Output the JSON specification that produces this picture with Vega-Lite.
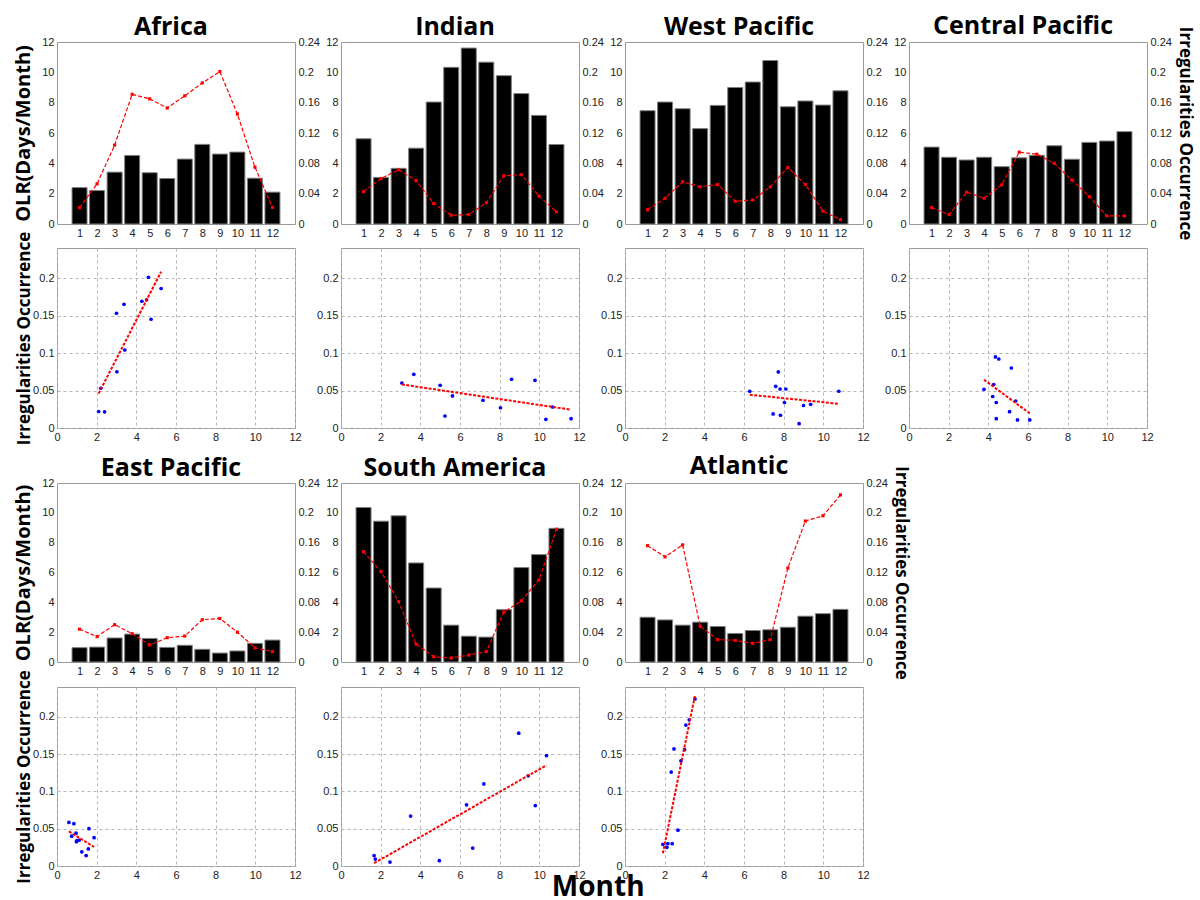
{
  "$schema": "https://vega.github.io/schema/vega-lite/v6.json",
  "padding": {"left": 12, "top": 13, "right": 0, "bottom": 0},
  "autosize": {"type": "pad"},
  "data": {"values": [
    {"region": "Africa", "month": 1, "olr": 2.40, "occ": 0.0216},
    {"region": "Africa", "month": 2, "olr": 2.21, "occ": 0.053},
    {"region": "Africa", "month": 3, "olr": 3.42, "occ": 0.104},
    {"region": "Africa", "month": 4, "olr": 4.52, "occ": 0.171},
    {"region": "Africa", "month": 5, "olr": 3.38, "occ": 0.165},
    {"region": "Africa", "month": 6, "olr": 3.00, "occ": 0.153},
    {"region": "Africa", "month": 7, "olr": 4.28, "occ": 0.169},
    {"region": "Africa", "month": 8, "olr": 5.25, "occ": 0.186},
    {"region": "Africa", "month": 9, "olr": 4.61, "occ": 0.201},
    {"region": "Africa", "month": 10, "olr": 4.74, "occ": 0.145},
    {"region": "Africa", "month": 11, "olr": 3.02, "occ": 0.075},
    {"region": "Africa", "month": 12, "olr": 2.10, "occ": 0.022},
    {"region": "Indian", "month": 1, "olr": 5.62, "occ": 0.0427},
    {"region": "Indian", "month": 2, "olr": 3.07, "occ": 0.060},
    {"region": "Indian", "month": 3, "olr": 3.67, "occ": 0.0716},
    {"region": "Indian", "month": 4, "olr": 5.00, "occ": 0.057},
    {"region": "Indian", "month": 5, "olr": 8.04, "occ": 0.027},
    {"region": "Indian", "month": 6, "olr": 10.33, "occ": 0.0116},
    {"region": "Indian", "month": 7, "olr": 11.60, "occ": 0.0124},
    {"region": "Indian", "month": 8, "olr": 10.67, "occ": 0.028},
    {"region": "Indian", "month": 9, "olr": 9.78, "occ": 0.0636},
    {"region": "Indian", "month": 10, "olr": 8.60, "occ": 0.065},
    {"region": "Indian", "month": 11, "olr": 7.16, "occ": 0.037},
    {"region": "Indian", "month": 12, "olr": 5.24, "occ": 0.016},
    {"region": "West Pacific", "month": 1, "olr": 7.47, "occ": 0.0187},
    {"region": "West Pacific", "month": 2, "olr": 8.04, "occ": 0.034},
    {"region": "West Pacific", "month": 3, "olr": 7.60, "occ": 0.0556},
    {"region": "West Pacific", "month": 4, "olr": 6.29, "occ": 0.049},
    {"region": "West Pacific", "month": 5, "olr": 7.82, "occ": 0.052},
    {"region": "West Pacific", "month": 6, "olr": 9.00, "occ": 0.030},
    {"region": "West Pacific", "month": 7, "olr": 9.36, "occ": 0.0316},
    {"region": "West Pacific", "month": 8, "olr": 10.78, "occ": 0.049},
    {"region": "West Pacific", "month": 9, "olr": 7.73, "occ": 0.0747},
    {"region": "West Pacific", "month": 10, "olr": 8.11, "occ": 0.052},
    {"region": "West Pacific", "month": 11, "olr": 7.84, "occ": 0.017},
    {"region": "West Pacific", "month": 12, "olr": 8.78, "occ": 0.0058},
    {"region": "Central Pacific", "month": 1, "olr": 5.07, "occ": 0.0218},
    {"region": "Central Pacific", "month": 2, "olr": 4.40, "occ": 0.0124},
    {"region": "Central Pacific", "month": 3, "olr": 4.22, "occ": 0.042},
    {"region": "Central Pacific", "month": 4, "olr": 4.40, "occ": 0.034},
    {"region": "Central Pacific", "month": 5, "olr": 3.78, "occ": 0.0516},
    {"region": "Central Pacific", "month": 6, "olr": 4.36, "occ": 0.0947},
    {"region": "Central Pacific", "month": 7, "olr": 4.53, "occ": 0.092},
    {"region": "Central Pacific", "month": 8, "olr": 5.16, "occ": 0.080},
    {"region": "Central Pacific", "month": 9, "olr": 4.27, "occ": 0.058},
    {"region": "Central Pacific", "month": 10, "olr": 5.38, "occ": 0.036},
    {"region": "Central Pacific", "month": 11, "olr": 5.47, "occ": 0.0107},
    {"region": "Central Pacific", "month": 12, "olr": 6.09, "occ": 0.0107},
    {"region": "East Pacific", "month": 1, "olr": 0.96, "occ": 0.044},
    {"region": "East Pacific", "month": 2, "olr": 1.00, "occ": 0.034},
    {"region": "East Pacific", "month": 3, "olr": 1.61, "occ": 0.050},
    {"region": "East Pacific", "month": 4, "olr": 1.87, "occ": 0.038},
    {"region": "East Pacific", "month": 5, "olr": 1.58, "occ": 0.0228},
    {"region": "East Pacific", "month": 6, "olr": 0.98, "occ": 0.0326},
    {"region": "East Pacific", "month": 7, "olr": 1.12, "occ": 0.0348},
    {"region": "East Pacific", "month": 8, "olr": 0.85, "occ": 0.0567},
    {"region": "East Pacific", "month": 9, "olr": 0.60, "occ": 0.0584},
    {"region": "East Pacific", "month": 10, "olr": 0.74, "occ": 0.040},
    {"region": "East Pacific", "month": 11, "olr": 1.25, "occ": 0.019},
    {"region": "East Pacific", "month": 12, "olr": 1.47, "occ": 0.014},
    {"region": "South America", "month": 1, "olr": 10.36, "occ": 0.148},
    {"region": "South America", "month": 2, "olr": 9.44, "occ": 0.121},
    {"region": "South America", "month": 3, "olr": 9.80, "occ": 0.081},
    {"region": "South America", "month": 4, "olr": 6.64, "occ": 0.024},
    {"region": "South America", "month": 5, "olr": 4.96, "occ": 0.0071},
    {"region": "South America", "month": 6, "olr": 2.47, "occ": 0.0053},
    {"region": "South America", "month": 7, "olr": 1.73, "occ": 0.0093},
    {"region": "South America", "month": 8, "olr": 1.67, "occ": 0.014},
    {"region": "South America", "month": 9, "olr": 3.51, "occ": 0.067},
    {"region": "South America", "month": 10, "olr": 6.33, "occ": 0.082},
    {"region": "South America", "month": 11, "olr": 7.20, "occ": 0.110},
    {"region": "South America", "month": 12, "olr": 8.96, "occ": 0.178},
    {"region": "Atlantic", "month": 1, "olr": 3.00, "occ": 0.156},
    {"region": "Atlantic", "month": 2, "olr": 2.82, "occ": 0.141},
    {"region": "Atlantic", "month": 3, "olr": 2.47, "occ": 0.157},
    {"region": "Atlantic", "month": 4, "olr": 2.67, "occ": 0.048},
    {"region": "Atlantic", "month": 5, "olr": 2.38, "occ": 0.030},
    {"region": "Atlantic", "month": 6, "olr": 1.91, "occ": 0.029},
    {"region": "Atlantic", "month": 7, "olr": 2.11, "occ": 0.025},
    {"region": "Atlantic", "month": 8, "olr": 2.16, "occ": 0.030},
    {"region": "Atlantic", "month": 9, "olr": 2.33, "occ": 0.126},
    {"region": "Atlantic", "month": 10, "olr": 3.07, "occ": 0.189},
    {"region": "Atlantic", "month": 11, "olr": 3.24, "occ": 0.196},
    {"region": "Atlantic", "month": 12, "olr": 3.53, "occ": 0.224}
  ]},
  "title": {"text": "Month", "orient": "bottom", "anchor": "middle", "fontSize": 28, "frame": "bounds", "offset": -10},
  "spacing": 7,
  "vconcat": [
    {
      "columns": 4,
      "bounds": "flush",
      "spacing": {"row": 24, "column": 46},
      "concat": [
        {"width": 238, "height": 182, "title": {"text": "Africa"},
         "transform": [{"filter": "datum.region === 'Africa'"}],
         "layer": [
           {"mark": {"type": "bar", "width": 15, "color": "#000", "stroke": "#7f7f7f", "strokeWidth": 1},
            "encoding": {
              "x": {"field": "month", "type": "quantitative", "scale": {"domain": [0, 13], "nice": false, "zero": false}, "axis": {"values": [1,2,3,4,5,6,7,8,9,10,11,12], "tickCount": 13, "title": null}},
              "y": {"field": "olr", "type": "quantitative", "scale": {"domain": [0, 12], "nice": false}, "axis": {"values": [0,2,4,6,8,10,12], "tickCount": 13, "title": "OLR(Days/Month)", "titleFontSize": 20, "minExtent": 20, "maxExtent": 20, "titlePadding": 4}}}},
           {"mark": {"type": "line", "color": "#f00", "strokeWidth": 1.2, "strokeDash": [4, 2], "point": {"shape": "square", "size": 10, "color": "#f00", "filled": true}},
            "encoding": {
              "x": {"field": "month", "type": "quantitative"},
              "y": {"field": "occ", "type": "quantitative", "scale": {"domain": [0, 0.24], "nice": false}, "axis": {"orient": "right", "values": [0,0.04,0.08,0.12,0.16,0.2,0.24], "tickCount": 13, "format": "~g", "title": null}}}}
         ],
         "resolve": {"scale": {"y": "independent"}}},
        {"width": 238, "height": 182, "title": {"text": "Indian"},
         "transform": [{"filter": "datum.region === 'Indian'"}],
         "layer": [
           {"mark": {"type": "bar", "width": 15, "color": "#000", "stroke": "#7f7f7f", "strokeWidth": 1},
            "encoding": {
              "x": {"field": "month", "type": "quantitative", "scale": {"domain": [0, 13], "nice": false, "zero": false}, "axis": {"values": [1,2,3,4,5,6,7,8,9,10,11,12], "tickCount": 13, "title": null}},
              "y": {"field": "olr", "type": "quantitative", "scale": {"domain": [0, 12], "nice": false}, "axis": {"values": [0,2,4,6,8,10,12], "tickCount": 13, "title": null}}}},
           {"mark": {"type": "line", "color": "#f00", "strokeWidth": 1.2, "strokeDash": [4, 2], "point": {"shape": "square", "size": 10, "color": "#f00", "filled": true}},
            "encoding": {
              "x": {"field": "month", "type": "quantitative"},
              "y": {"field": "occ", "type": "quantitative", "scale": {"domain": [0, 0.24], "nice": false}, "axis": {"orient": "right", "values": [0,0.04,0.08,0.12,0.16,0.2,0.24], "tickCount": 13, "format": "~g", "title": null}}}}
         ],
         "resolve": {"scale": {"y": "independent"}}},
        {"width": 238, "height": 182, "title": {"text": "West Pacific"},
         "transform": [{"filter": "datum.region === 'West Pacific'"}],
         "layer": [
           {"mark": {"type": "bar", "width": 15, "color": "#000", "stroke": "#7f7f7f", "strokeWidth": 1},
            "encoding": {
              "x": {"field": "month", "type": "quantitative", "scale": {"domain": [0, 13], "nice": false, "zero": false}, "axis": {"values": [1,2,3,4,5,6,7,8,9,10,11,12], "tickCount": 13, "title": null}},
              "y": {"field": "olr", "type": "quantitative", "scale": {"domain": [0, 12], "nice": false}, "axis": {"values": [0,2,4,6,8,10,12], "tickCount": 13, "title": null}}}},
           {"mark": {"type": "line", "color": "#f00", "strokeWidth": 1.2, "strokeDash": [4, 2], "point": {"shape": "square", "size": 10, "color": "#f00", "filled": true}},
            "encoding": {
              "x": {"field": "month", "type": "quantitative"},
              "y": {"field": "occ", "type": "quantitative", "scale": {"domain": [0, 0.24], "nice": false}, "axis": {"orient": "right", "values": [0,0.04,0.08,0.12,0.16,0.2,0.24], "tickCount": 13, "format": "~g", "title": null}}}}
         ],
         "resolve": {"scale": {"y": "independent"}}},
        {"width": 238, "height": 182, "title": {"text": "Central Pacific", "dy": 9},
         "transform": [{"filter": "datum.region === 'Central Pacific'"}],
         "layer": [
           {"mark": {"type": "bar", "width": 15, "color": "#000", "stroke": "#7f7f7f", "strokeWidth": 1},
            "encoding": {
              "x": {"field": "month", "type": "quantitative", "scale": {"domain": [0, 13], "nice": false, "zero": false}, "axis": {"values": [1,2,3,4,5,6,7,8,9,10,11,12], "tickCount": 13, "title": null}},
              "y": {"field": "olr", "type": "quantitative", "scale": {"domain": [0, 12], "nice": false}, "axis": {"values": [0,2,4,6,8,10,12], "tickCount": 13, "title": null}}}},
           {"mark": {"type": "line", "color": "#f00", "strokeWidth": 1.2, "strokeDash": [4, 2], "point": {"shape": "square", "size": 10, "color": "#f00", "filled": true}},
            "encoding": {
              "x": {"field": "month", "type": "quantitative"},
              "y": {"field": "occ", "type": "quantitative", "scale": {"domain": [0, 0.24], "nice": false}, "axis": {"orient": "right", "values": [0,0.04,0.08,0.12,0.16,0.2,0.24], "tickCount": 13, "format": "~g", "title": "Irregularities Occurrence", "titleFontSize": 17, "titlePadding": 4}}}}
         ],
         "resolve": {"scale": {"y": "independent"}}},
        {"width": 238, "height": 180,
         "transform": [{"filter": "datum.region === 'Africa'"}],
         "layer": [
           {"mark": {"type": "point", "filled": true, "color": "#0000ff", "size": 14, "opacity": 1},
            "encoding": {
              "x": {"field": "olr", "type": "quantitative", "scale": {"domain": [0, 12], "nice": false}, "axis": {"values": [0,2,4,6,8,10,12], "tickCount": 13, "title": null, "grid": true}},
              "y": {"field": "occ", "type": "quantitative", "scale": {"domain": [0, 0.24], "nice": false}, "axis": {"values": [0,0.05,0.1,0.15,0.2], "tickCount": 13, "format": "~g", "grid": true, "title": "Irregularities Occurrence", "titleFontSize": 17, "minExtent": 20, "maxExtent": 20, "titlePadding": 4}}}},
           {"transform": [{"regression": "occ", "on": "olr"}],
            "mark": {"type": "line", "color": "#f00", "strokeWidth": 2, "strokeDash": [3, 1.5]},
            "encoding": {"x": {"field": "olr", "type": "quantitative"}, "y": {"field": "occ", "type": "quantitative"}}}
         ]},
        {"width": 238, "height": 180,
         "transform": [{"filter": "datum.region === 'Indian'"}],
         "layer": [
           {"mark": {"type": "point", "filled": true, "color": "#0000ff", "size": 14, "opacity": 1},
            "encoding": {
              "x": {"field": "olr", "type": "quantitative", "scale": {"domain": [0, 12], "nice": false}, "axis": {"values": [0,2,4,6,8,10,12], "tickCount": 13, "title": null, "grid": true}},
              "y": {"field": "occ", "type": "quantitative", "scale": {"domain": [0, 0.24], "nice": false}, "axis": {"values": [0,0.05,0.1,0.15,0.2], "tickCount": 13, "format": "~g", "grid": true, "title": null}}}},
           {"transform": [{"regression": "occ", "on": "olr"}],
            "mark": {"type": "line", "color": "#f00", "strokeWidth": 2, "strokeDash": [3, 1.5]},
            "encoding": {"x": {"field": "olr", "type": "quantitative"}, "y": {"field": "occ", "type": "quantitative"}}}
         ]},
        {"width": 238, "height": 180,
         "transform": [{"filter": "datum.region === 'West Pacific'"}],
         "layer": [
           {"mark": {"type": "point", "filled": true, "color": "#0000ff", "size": 14, "opacity": 1},
            "encoding": {
              "x": {"field": "olr", "type": "quantitative", "scale": {"domain": [0, 12], "nice": false}, "axis": {"values": [0,2,4,6,8,10,12], "tickCount": 13, "title": null, "grid": true}},
              "y": {"field": "occ", "type": "quantitative", "scale": {"domain": [0, 0.24], "nice": false}, "axis": {"values": [0,0.05,0.1,0.15,0.2], "tickCount": 13, "format": "~g", "grid": true, "title": null}}}},
           {"transform": [{"regression": "occ", "on": "olr"}],
            "mark": {"type": "line", "color": "#f00", "strokeWidth": 2, "strokeDash": [3, 1.5]},
            "encoding": {"x": {"field": "olr", "type": "quantitative"}, "y": {"field": "occ", "type": "quantitative"}}}
         ]},
        {"width": 238, "height": 180,
         "transform": [{"filter": "datum.region === 'Central Pacific'"}],
         "layer": [
           {"mark": {"type": "point", "filled": true, "color": "#0000ff", "size": 14, "opacity": 1},
            "encoding": {
              "x": {"field": "olr", "type": "quantitative", "scale": {"domain": [0, 12], "nice": false}, "axis": {"values": [0,2,4,6,8,10,12], "tickCount": 13, "title": null, "grid": true}},
              "y": {"field": "occ", "type": "quantitative", "scale": {"domain": [0, 0.24], "nice": false}, "axis": {"values": [0,0.05,0.1,0.15,0.2], "tickCount": 13, "format": "~g", "grid": true, "title": null}}}},
           {"transform": [{"regression": "occ", "on": "olr"}],
            "mark": {"type": "line", "color": "#f00", "strokeWidth": 2, "strokeDash": [3, 1.5]},
            "encoding": {"x": {"field": "olr", "type": "quantitative"}, "y": {"field": "occ", "type": "quantitative"}}}
         ]}
      ]
    },
    {
      "columns": 3,
      "bounds": "flush",
      "spacing": {"row": 25, "column": 46},
      "concat": [
        {"width": 238, "height": 179, "title": {"text": "East Pacific"},
         "transform": [{"filter": "datum.region === 'East Pacific'"}],
         "layer": [
           {"mark": {"type": "bar", "width": 15, "color": "#000", "stroke": "#7f7f7f", "strokeWidth": 1},
            "encoding": {
              "x": {"field": "month", "type": "quantitative", "scale": {"domain": [0, 13], "nice": false, "zero": false}, "axis": {"values": [1,2,3,4,5,6,7,8,9,10,11,12], "tickCount": 13, "title": null}},
              "y": {"field": "olr", "type": "quantitative", "scale": {"domain": [0, 12], "nice": false}, "axis": {"values": [0,2,4,6,8,10,12], "tickCount": 13, "title": "OLR(Days/Month)", "titleFontSize": 20, "minExtent": 20, "maxExtent": 20, "titlePadding": 4}}}},
           {"mark": {"type": "line", "color": "#f00", "strokeWidth": 1.2, "strokeDash": [4, 2], "point": {"shape": "square", "size": 10, "color": "#f00", "filled": true}},
            "encoding": {
              "x": {"field": "month", "type": "quantitative"},
              "y": {"field": "occ", "type": "quantitative", "scale": {"domain": [0, 0.24], "nice": false}, "axis": {"orient": "right", "values": [0,0.04,0.08,0.12,0.16,0.2,0.24], "tickCount": 13, "format": "~g", "title": null}}}}
         ],
         "resolve": {"scale": {"y": "independent"}}},
        {"width": 238, "height": 179, "title": {"text": "South America"},
         "transform": [{"filter": "datum.region === 'South America'"}],
         "layer": [
           {"mark": {"type": "bar", "width": 15, "color": "#000", "stroke": "#7f7f7f", "strokeWidth": 1},
            "encoding": {
              "x": {"field": "month", "type": "quantitative", "scale": {"domain": [0, 13], "nice": false, "zero": false}, "axis": {"values": [1,2,3,4,5,6,7,8,9,10,11,12], "tickCount": 13, "title": null}},
              "y": {"field": "olr", "type": "quantitative", "scale": {"domain": [0, 12], "nice": false}, "axis": {"values": [0,2,4,6,8,10,12], "tickCount": 13, "title": null}}}},
           {"mark": {"type": "line", "color": "#f00", "strokeWidth": 1.2, "strokeDash": [4, 2], "point": {"shape": "square", "size": 10, "color": "#f00", "filled": true}},
            "encoding": {
              "x": {"field": "month", "type": "quantitative"},
              "y": {"field": "occ", "type": "quantitative", "scale": {"domain": [0, 0.24], "nice": false}, "axis": {"orient": "right", "values": [0,0.04,0.08,0.12,0.16,0.2,0.24], "tickCount": 13, "format": "~g", "title": null}}}}
         ],
         "resolve": {"scale": {"y": "independent"}}},
        {"width": 238, "height": 179, "title": {"text": "Atlantic", "dy": 9},
         "transform": [{"filter": "datum.region === 'Atlantic'"}],
         "layer": [
           {"mark": {"type": "bar", "width": 15, "color": "#000", "stroke": "#7f7f7f", "strokeWidth": 1},
            "encoding": {
              "x": {"field": "month", "type": "quantitative", "scale": {"domain": [0, 13], "nice": false, "zero": false}, "axis": {"values": [1,2,3,4,5,6,7,8,9,10,11,12], "tickCount": 13, "title": null}},
              "y": {"field": "olr", "type": "quantitative", "scale": {"domain": [0, 12], "nice": false}, "axis": {"values": [0,2,4,6,8,10,12], "tickCount": 13, "title": null}}}},
           {"mark": {"type": "line", "color": "#f00", "strokeWidth": 1.2, "strokeDash": [4, 2], "point": {"shape": "square", "size": 10, "color": "#f00", "filled": true}},
            "encoding": {
              "x": {"field": "month", "type": "quantitative"},
              "y": {"field": "occ", "type": "quantitative", "scale": {"domain": [0, 0.24], "nice": false}, "axis": {"orient": "right", "values": [0,0.04,0.08,0.12,0.16,0.2,0.24], "tickCount": 13, "format": "~g", "title": "Irregularities Occurrence", "titleFontSize": 17, "titlePadding": 4}}}}
         ],
         "resolve": {"scale": {"y": "independent"}}},
        {"width": 238, "height": 179,
         "transform": [{"filter": "datum.region === 'East Pacific'"}],
         "layer": [
           {"mark": {"type": "point", "filled": true, "color": "#0000ff", "size": 14, "opacity": 1},
            "encoding": {
              "x": {"field": "olr", "type": "quantitative", "scale": {"domain": [0, 12], "nice": false}, "axis": {"values": [0,2,4,6,8,10,12], "tickCount": 13, "title": null, "grid": true}},
              "y": {"field": "occ", "type": "quantitative", "scale": {"domain": [0, 0.24], "nice": false}, "axis": {"values": [0,0.05,0.1,0.15,0.2], "tickCount": 13, "format": "~g", "grid": true, "title": "Irregularities Occurrence", "titleFontSize": 17, "minExtent": 20, "maxExtent": 20, "titlePadding": 4}}}},
           {"transform": [{"regression": "occ", "on": "olr"}],
            "mark": {"type": "line", "color": "#f00", "strokeWidth": 2, "strokeDash": [3, 1.5]},
            "encoding": {"x": {"field": "olr", "type": "quantitative"}, "y": {"field": "occ", "type": "quantitative"}}}
         ]},
        {"width": 238, "height": 179,
         "transform": [{"filter": "datum.region === 'South America'"}],
         "layer": [
           {"mark": {"type": "point", "filled": true, "color": "#0000ff", "size": 14, "opacity": 1},
            "encoding": {
              "x": {"field": "olr", "type": "quantitative", "scale": {"domain": [0, 12], "nice": false}, "axis": {"values": [0,2,4,6,8,10,12], "tickCount": 13, "title": null, "grid": true}},
              "y": {"field": "occ", "type": "quantitative", "scale": {"domain": [0, 0.24], "nice": false}, "axis": {"values": [0,0.05,0.1,0.15,0.2], "tickCount": 13, "format": "~g", "grid": true, "title": null}}}},
           {"transform": [{"regression": "occ", "on": "olr"}],
            "mark": {"type": "line", "color": "#f00", "strokeWidth": 2, "strokeDash": [3, 1.5]},
            "encoding": {"x": {"field": "olr", "type": "quantitative"}, "y": {"field": "occ", "type": "quantitative"}}}
         ]},
        {"width": 238, "height": 179,
         "transform": [{"filter": "datum.region === 'Atlantic'"}],
         "layer": [
           {"mark": {"type": "point", "filled": true, "color": "#0000ff", "size": 14, "opacity": 1},
            "encoding": {
              "x": {"field": "olr", "type": "quantitative", "scale": {"domain": [0, 12], "nice": false}, "axis": {"values": [0,2,4,6,8,10,12], "tickCount": 13, "title": null, "grid": true}},
              "y": {"field": "occ", "type": "quantitative", "scale": {"domain": [0, 0.24], "nice": false}, "axis": {"values": [0,0.05,0.1,0.15,0.2], "tickCount": 13, "format": "~g", "grid": true, "title": null}}}},
           {"transform": [{"regression": "occ", "on": "olr"}],
            "mark": {"type": "line", "color": "#f00", "strokeWidth": 2, "strokeDash": [3, 1.5]},
            "encoding": {"x": {"field": "olr", "type": "quantitative"}, "y": {"field": "occ", "type": "quantitative"}}}
         ]}
      ]
    }
  ],
  "config": {
    "font": "Liberation Sans",
    "view": {"stroke": "#9a9a9a", "strokeWidth": 1},
    "axis": {"labelFont": "Liberation Sans", "labelFontSize": 11, "labelColor": "#222", "ticks": false, "domain": false, "grid": false, "labelPadding": 3, "labelOverlap": false, "labelFlush": false, "labelBound": false, "titleFont": "Open Sans", "titleFontWeight": "bold", "titleColor": "#000", "gridDash": [3, 3], "gridColor": "#b5b5b5", "gridWidth": 1},
    "title": {"font": "Open Sans", "fontSize": 25, "fontWeight": "bold", "color": "#000", "frame": "group", "offset": -4, "baseline": "alphabetic", "dx": -5}
  }
}
